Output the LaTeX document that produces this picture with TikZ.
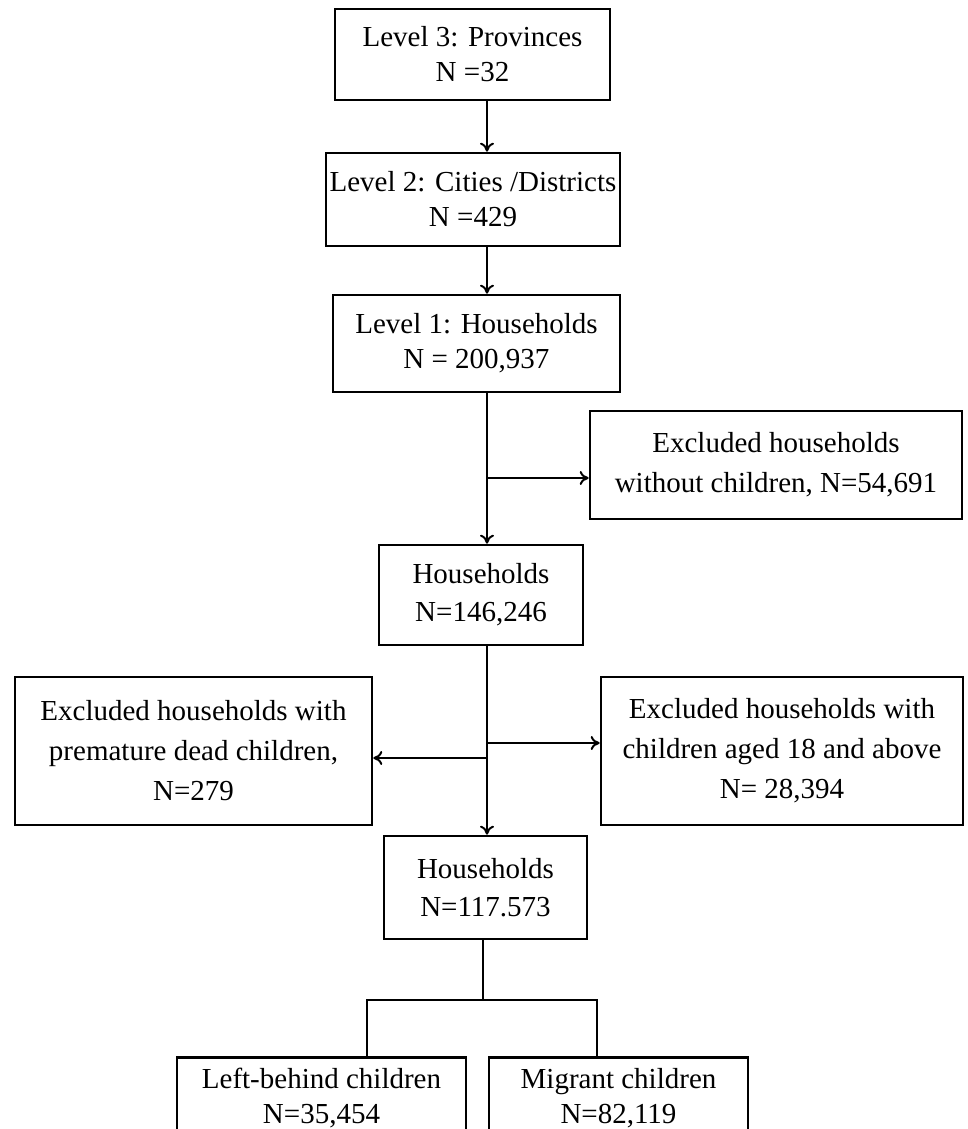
\documentclass[tikz,border=0pt]{standalone}
\usepackage{fontspec}
\setmainfont{Liberation Serif}
\usetikzlibrary{arrows.meta}

\tikzset{
	box/.style={draw, line width=1.3pt, align=center, inner sep=0pt, font=\fontsize{14.5}{17.5}\selectfont},
	exbox/.style={box, font=\fontsize{14.5}{20}\selectfont},
	link/.style={line width=1pt},
	arr/.style={link, -{To[length=4.5pt,width=7pt]}}
}

\begin{document}
\begin{tikzpicture}[x=0.5pt, y=-0.5pt]
		\clip (0,0) rectangle (968,1129);

		% sampling levels
		\node [box, minimum width=137.5pt, minimum height=45.5pt] (prov) at (472.5,54.5) {Level 3: Provinces\\N =32};
		\node [box, minimum width=147pt, minimum height=46.5pt] (city) at (473,199.5) {Level 2: Cities /Districts\\N =429};
		\node [box, minimum width=143.5pt, minimum height=48.5pt] (hhone) at (476.5,343.5) {Level 1: Households\\N = 200,937};

		% exclusions and remaining households
		\node [exbox, minimum width=186pt, minimum height=54pt] (nochild) at (776,465) {Excluded households\\without children, N=54,691};
		\node [box, minimum width=102pt, minimum height=50pt, font=\fontsize{14.5}{19}\selectfont] (hhtwo) at (481,595) {Households\\N=146,246};
		\node [exbox, minimum width=178.5pt, minimum height=74pt] (dead) at (193.5,751) {Excluded households with\\premature dead children,\\N=279};
		\node [exbox, minimum width=181pt, minimum height=74pt] (adult) at (782,751) {Excluded households with\\children aged 18 and above\\N= 28,394};
		\node [box, minimum width=101.5pt, minimum height=51.5pt, font=\fontsize{14.5}{19}\selectfont] (hhthree) at (485.5,887.5) {Households\\N=117.573};

		% final groups
		\node [box, minimum width=144.5pt, minimum height=41pt] (leftb) at (321.5,1098.5) {Left-behind children\\N=35,454};
		\node [box, minimum width=129.5pt, minimum height=41pt] (migr) at (618.5,1098.5) {Migrant children\\N=82,119};

		% main trunk
		\coordinate (t) at (487,0);
		\draw [arr] (prov.south -| t) -- (city.north -| t);
		\draw [arr] (city.south -| t) -- (hhone.north -| t);
		\draw [arr] (hhone.south -| t) -- (hhtwo.north -| t);
		\draw [arr] (hhtwo.south -| t) -- (hhthree.north -| t);

		% side branches
		\coordinate (b1) at (487,478);
		\coordinate (b2) at (487,743);
		\coordinate (b3) at (487,758);
		\draw [arr] (b1) -- (b1 -| nochild.west);
		\draw [arr] (b2) -- (b2 -| adult.west);
		\draw [arr] (b3) -- (b3 -| dead.east);

		% split into the two groups
		\coordinate (s) at (483,1000);
		\coordinate (sl) at (367,1000);
		\coordinate (sr) at (597,1000);
		\draw [link] (hhthree.south -| s) -- (s);
		\draw [link] (leftb.north -| sl) -- (sl) -- (sr) -- (migr.north -| sr);
\end{tikzpicture}
\end{document}
